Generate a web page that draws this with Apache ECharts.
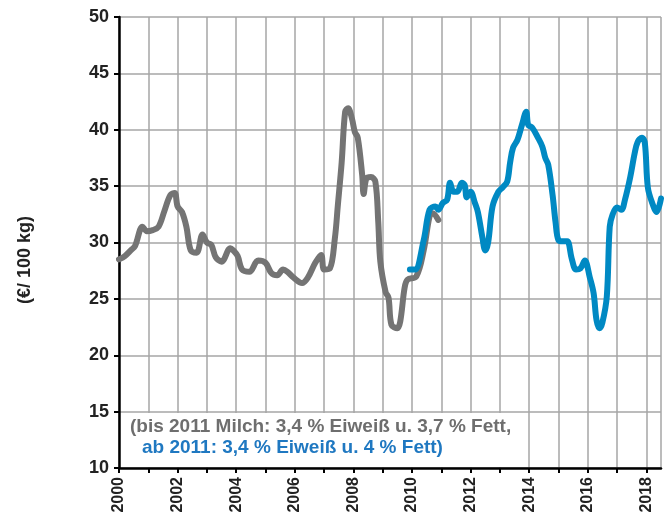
<!DOCTYPE html>
<html>
<head>
<meta charset="utf-8">
<script src="https://cdn.jsdelivr.net/npm/echarts@6/dist/echarts.min.js"></script>
<style>
  html, body { margin: 0; padding: 0; background: #fff; }
  #chart { width: 667px; height: 517px; }
</style>
</head>
<body>
<div id="chart"></div>
<script>
// Milchpreis bis 2011 (3,7 % Fett)
var grayYears = [2000.0, 2000.2, 2000.4, 2000.55, 2000.8, 2000.95, 2001.15, 2001.35, 2001.55, 2001.75,
  2001.9, 2002.0, 2002.15, 2002.3, 2002.45, 2002.65, 2002.85, 2003.0, 2003.15, 2003.3,
  2003.5, 2003.8, 2003.9, 2004.05, 2004.2, 2004.45, 2004.75, 2005.0, 2005.2, 2005.4,
  2005.6, 2005.75, 2005.95, 2006.25, 2006.45, 2006.7, 2006.9, 2007.0, 2007.2, 2007.37,
  2007.47, 2007.6, 2007.72, 2007.82, 2007.95, 2008.05, 2008.15, 2008.3, 2008.35, 2008.45,
  2008.6, 2008.75, 2008.85, 2008.92, 2009.1, 2009.2, 2009.3, 2009.5, 2009.6, 2009.75,
  2009.85, 2010.15, 2010.4, 2010.6, 2010.7, 2010.9];
var grayValues = [28.5, 28.8, 29.3, 29.7, 31.4, 31.0, 31.1, 31.4, 32.8, 34.2,
  34.4, 33.2, 32.7, 31.4, 29.3, 29.1, 30.7, 30.0, 29.8, 28.7,
  28.3, 29.5, 29.3, 28.8, 27.6, 27.4, 28.4, 28.2, 27.3, 27.1,
  27.6, 27.4, 26.9, 26.4, 26.9, 28.2, 28.9, 27.6, 27.7, 30.4,
  33.3, 37.1, 41.6, 41.9, 41.0, 39.8, 39.3, 36.0, 34.3, 35.7,
  35.8, 35.4, 31.8, 28.3, 25.6, 25.1, 22.7, 22.4, 23.0, 26.0,
  26.7, 27.0, 29.3, 32.3, 32.6, 32.0];

// Milchpreis ab 2011 (4 % Fett)
var blueYears = [2009.93, 2010.1, 2010.4, 2010.6, 2010.8, 2010.9, 2011.05, 2011.2, 2011.3, 2011.42,
  2011.55, 2011.7, 2011.8, 2011.87, 2012.0, 2012.15, 2012.25, 2012.4, 2012.5, 2012.6,
  2012.75, 2012.95, 2013.1, 2013.25, 2013.35, 2013.45, 2013.6, 2013.75, 2013.9, 2013.97,
  2014.1, 2014.3, 2014.45, 2014.55, 2014.65, 2014.8, 2014.9, 2015.0, 2015.15, 2015.3,
  2015.45, 2015.6, 2015.75, 2015.9, 2016.07, 2016.2, 2016.3, 2016.4, 2016.5, 2016.65,
  2016.75, 2016.85, 2017.0, 2017.15, 2017.27, 2017.45, 2017.6, 2017.7, 2017.85, 2017.95,
  2018.05, 2018.2, 2018.35, 2018.5];
var blueValues = [27.6, 27.6, 30.2, 32.9, 33.2, 32.9, 33.5, 33.8, 35.3, 34.5,
  34.5, 35.3, 35.1, 34.0, 34.5, 33.5, 32.7, 30.5, 29.3, 30.0,
  33.2, 34.5, 34.9, 35.4, 37.1, 38.4, 39.1, 40.4, 41.6, 40.4,
  40.2, 39.3, 38.5, 37.5, 36.9, 34.2, 31.8, 30.2, 30.1, 30.1,
  28.6, 27.6, 27.7, 28.4, 26.9, 25.5, 23.1, 22.4, 22.9, 25.2,
  31.4, 32.5, 33.1, 32.9, 33.8, 35.8, 37.9, 38.9, 39.3, 38.8,
  34.9, 33.5, 32.7, 33.9];

var yearLabels = [2000, 2002, 2004, 2006, 2008, 2010, 2012, 2014, 2016, 2018];

function pairs(xs, ys) {
  return xs.map(function (x, i) { return [x, ys[i]]; });
}

var FONT = "'Liberation Sans', Arial, sans-serif";

var chart = echarts.init(document.getElementById("chart"));
chart.setOption({
  animation: false,
  backgroundColor: "#ffffff",
  grid: { left: 119, top: 17, right: 6, bottom: 49 },
  xAxis: {
    type: "value",
    min: 2000,
    max: 2018.5,
    interval: 1,
    axisLine: { onZero: false, lineStyle: { color: "#000", width: 2.5 } },
    axisTick: { show: true, length: 5, lineStyle: { color: "#000", width: 2 } },
    axisLabel: {
      rotate: 90,
      margin: 9,
      color: "#222",
      fontFamily: FONT,
      fontWeight: "bold",
      fontSize: 16,
      showMaxLabel: false,
      formatter: function (v) {
        return yearLabels.indexOf(v) >= 0 ? String(v) : "";
      }
    },
    splitLine: { show: true, lineStyle: { color: "#a6a6a6", width: 1.5 } }
  },
  yAxis: {
    type: "value",
    min: 10,
    max: 50,
    interval: 5,
    axisLine: { show: true, lineStyle: { color: "#000", width: 2.5 } },
    axisTick: { show: true, length: 5, lineStyle: { color: "#000", width: 2 } },
    axisLabel: {
      margin: 10,
      color: "#222",
      fontFamily: FONT,
      fontWeight: "bold",
      fontSize: 18
    },
    splitLine: { show: true, lineStyle: { color: "#a6a6a6", width: 1.5 } }
  },
  graphic: [
    {
      type: "text",
      x: 25,
      y: 260,
      rotation: Math.PI / 2,
      style: {
        text: "(€/ 100 kg)",
        fill: "#222",
        font: "bold 18px " + FONT,
        textAlign: "center",
        textVerticalAlign: "middle"
      }
    },
    {
      type: "rect",
      shape: { x: 121, y: 413, width: 404, height: 54 },
      style: { fill: "#ffffff" },
      z: 10
    },
    {
      type: "text",
      left: 130,
      top: 417,
      z: 11,
      style: {
        text: "(bis 2011 Milch: 3,4 % Eiweiß u. 3,7 % Fett,",
        fill: "#6e6e6e",
        font: "bold 19px " + FONT
      }
    },
    {
      type: "text",
      left: 142,
      top: 438,
      z: 11,
      style: {
        text: "ab 2011: 3,4 % Eiweiß u. 4 % Fett)",
        fill: "#1f78c1",
        font: "bold 19px " + FONT
      }
    }
  ],
  series: [
    {
      name: "bis 2011",
      type: "line",
      data: pairs(grayYears, grayValues),
      smooth: 0.35,
      symbol: "none",
      lineStyle: { color: "#747474", width: 6, cap: "round", join: "round" },
      z: 2
    },
    {
      name: "ab 2011",
      type: "line",
      data: pairs(blueYears, blueValues),
      smooth: 0.35,
      symbol: "none",
      lineStyle: { color: "#0089c3", width: 6, cap: "round", join: "round" },
      z: 3
    }
  ]
});
</script>
</body>
</html>
